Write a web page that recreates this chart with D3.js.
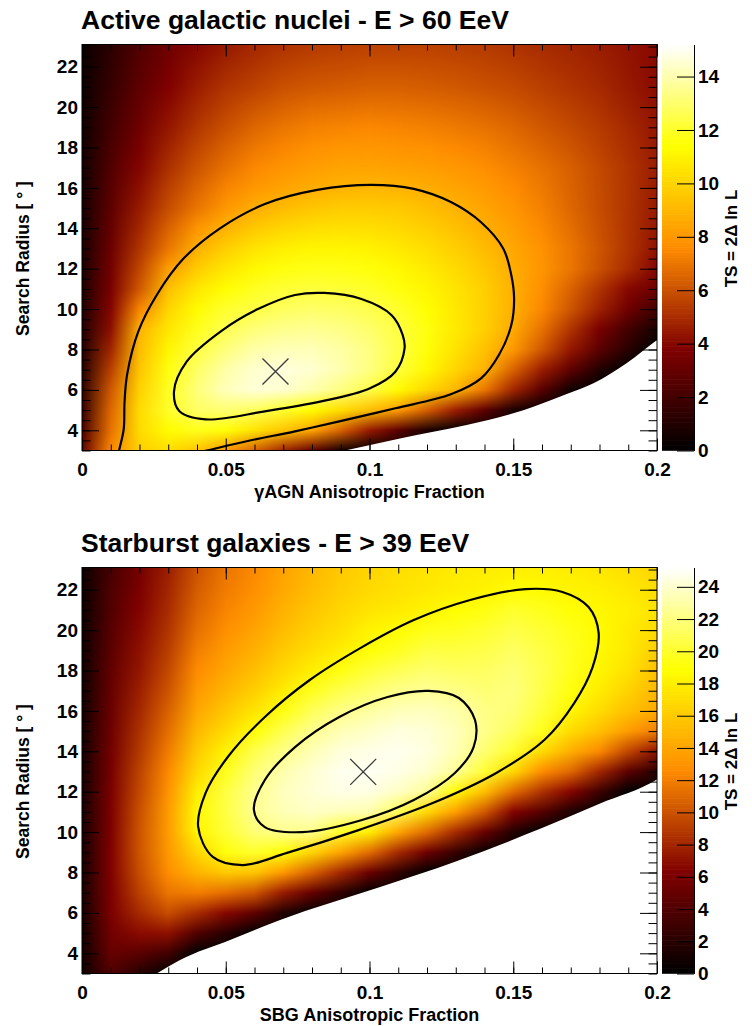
<!DOCTYPE html>
<html>
<head>
<meta charset="utf-8">
<script src="https://cdn.jsdelivr.net/npm/d3@7"></script>
<style>
  body { margin: 0; background: #fff; }
  svg { display: block; }
  text { font-family: 'Liberation Sans', Arial, Helvetica, sans-serif; font-weight: bold; }
</style>
</head>
<body>
<div class="chart-container"></div>
<script>
// likelihood scan grid
const frac_grid = [0, 0.01, 0.02, 0.03, 0.04, 0.05, 0.06, 0.07, 0.08, 0.09, 0.1,
                   0.11, 0.12, 0.13, 0.14, 0.15, 0.16, 0.17, 0.18, 0.19, 0.2];
const radius_grid = [23, 22, 21, 20, 19, 18, 17, 16, 15, 14, 13, 12, 11, 10, 9, 8, 7, 6, 5, 4, 3];

// TS of the gamma-AGN scan, one row per radius (top to bottom), one value per fraction
// (cells below the fit boundary are 0, they are covered by the white region)
const agn_ts_by_radius = [
  [0.3, 1.3, 2.4, 3.3, 4.0, 4.5, 4.9, 5.2, 5.4, 5.5, 5.6, 5.6, 5.6, 5.5, 5.4, 5.2, 5.0, 4.8, 4.6, 4.3, 4.0],
  [0.35, 1.45, 2.6, 3.55, 4.3, 4.85, 5.25, 5.6, 5.8, 5.9, 6.0, 6.0, 5.95, 5.85, 5.7, 5.5, 5.25, 5.0, 4.75, 4.4, 4.05],
  [0.4, 1.6, 2.8, 3.8, 4.6, 5.2, 5.6, 6.0, 6.2, 6.3, 6.4, 6.4, 6.3, 6.2, 6.0, 5.8, 5.5, 5.2, 4.9, 4.5, 4.1],
  [0.45, 1.8, 3.05, 4.1, 4.95, 5.6, 6.1, 6.5, 6.75, 6.85, 6.95, 6.9, 6.8, 6.65, 6.45, 6.2, 5.85, 5.5, 5.15, 4.7, 4.25],
  [0.5, 2.0, 3.3, 4.4, 5.3, 6.0, 6.6, 7.0, 7.3, 7.4, 7.5, 7.4, 7.3, 7.1, 6.9, 6.6, 6.2, 5.8, 5.4, 4.9, 4.4],
  [0.55, 2.2, 3.6, 4.75, 5.7, 6.45, 7.05, 7.45, 7.75, 7.9, 7.95, 7.85, 7.75, 7.55, 7.3, 6.95, 6.55, 6.1, 5.6, 5.05, 4.5],
  [0.6, 2.4, 3.9, 5.1, 6.1, 6.9, 7.5, 7.9, 8.2, 8.4, 8.4, 8.3, 8.2, 8.0, 7.7, 7.3, 6.9, 6.4, 5.8, 5.2, 4.6],
  [0.65, 2.6, 4.2, 5.5, 6.55, 7.4, 8.0, 8.4, 8.7, 8.9, 9.0, 8.9, 8.7, 8.4, 8.05, 7.6, 7.1, 6.5, 5.85, 5.2, 4.55],
  [0.7, 2.8, 4.5, 5.9, 7.0, 8.0, 8.7, 9.2, 9.5, 9.7, 9.7, 9.6, 9.3, 8.9, 8.4, 7.9, 7.3, 6.6, 5.9, 5.2, 4.5],
  [0.75, 3.0, 4.85, 6.45, 7.9, 8.9, 9.6, 10.05, 10.3, 10.4, 10.35, 10.15, 9.8, 9.35, 8.8, 8.2, 7.55, 6.8, 6.0, 5.2, 4.4],
  [0.8, 3.2, 5.2, 7.0, 8.8, 9.8, 10.5, 10.9, 11.1, 11.1, 11.0, 10.7, 10.3, 9.8, 9.2, 8.5, 7.8, 7.0, 6.1, 5.2, 4.3],
  [0.85, 3.4, 5.7, 8.2, 9.7, 10.6, 11.2, 11.6, 11.75, 11.7, 11.55, 11.2, 10.75, 10.2, 9.55, 8.7, 7.9, 7.0, 6.0, 5.0, 3.9],
  [0.9, 3.6, 6.2, 9.3, 10.6, 11.4, 11.9, 12.2, 12.3, 12.2, 12.0, 11.6, 11.1, 10.5, 9.8, 8.8, 7.7, 6.5, 5.2, 4.0, 3.2],
  [0.95, 3.9, 7.4, 10.0, 11.3, 12.1, 12.4, 12.8, 12.95, 12.85, 12.55, 12.05, 11.4, 10.65, 9.85, 8.8, 7.5, 6.1, 4.7, 3.3, 2.0],
  [1.0, 4.2, 8.9, 10.6, 11.8, 12.6, 13.2, 13.5, 13.6, 13.4, 13.0, 12.4, 11.6, 10.7, 9.8, 8.6, 6.9, 5.2, 3.6, 2.0, 0.7],
  [1.05, 4.8, 9.2, 11.1, 12.35, 13.25, 13.9, 14.15, 14.15, 13.85, 13.3, 12.45, 11.5, 10.45, 9.4, 8.0, 6.2, 4.4, 2.7, 1.2, 0],
  [1.1, 5.5, 9.5, 11.6, 12.9, 13.9, 14.5, 14.7, 14.5, 14.0, 13.3, 12.3, 11.2, 10.0, 8.9, 6.5, 4.6, 2.8, 1.0, 0, 0],
  [1.3, 6.2, 9.9, 11.9, 13.2, 14.2, 14.6, 14.5, 14.0, 13.3, 12.5, 11.3, 10.1, 9.0, 7.0, 4.8, 2.6, 0.5, 0, 0, 0],
  [1.6, 6.6, 10.2, 12.0, 12.9, 13.1, 12.8, 12.1, 11.3, 10.3, 9.3, 8.1, 6.4, 4.6, 2.8, 0.8, 0, 0, 0, 0, 0],
  [2.2, 6.9, 10.2, 11.3, 11.8, 11.5, 10.5, 9.5, 8.4, 6.5, 4.5, 2.7, 0.8, 0, 0, 0, 0, 0, 0, 0, 0],
  [3.0, 7.5, 9.8, 10.3, 9.5, 8.0, 6.5, 4.8, 3.0, 0.6, 0, 0, 0, 0, 0, 0, 0, 0, 0, 0, 0]
];

// TS of the starburst scan, one column per fraction, values along the radius from 23 down to 3
const sbg_ts_by_fraction = [
  [0.6, 0.65, 0.7, 0.75, 0.8, 0.85, 0.9, 0.95, 1.0, 1.05, 1.1, 1.15, 1.2, 1.2, 1.2, 1.2, 1.2, 1.1, 1.0, 0.9, 0.8],
  [3.5, 3.8, 4.0, 4.3, 4.5, 4.8, 5.0, 5.2, 5.4, 5.6, 5.8, 6.0, 6.1, 6.2, 6.3, 6.3, 6.2, 6.0, 5.6, 5.0, 4.0],
  [5.8, 6.1, 6.4, 6.7, 7.0, 7.3, 7.7, 8.1, 8.5, 8.9, 9.3, 9.6, 9.9, 10.1, 10.1, 9.8, 9.2, 8.2, 6.8, 4.5, 2.0],
  [7.7, 8.0, 8.3, 8.7, 9.1, 9.6, 10.1, 10.7, 11.3, 11.9, 12.5, 13.0, 13.4, 13.5, 13.3, 12.7, 11.6, 9.8, 7.0, 3.2, 0],
  [10.1, 10.5, 10.9, 11.4, 12.0, 12.6, 13.3, 14.1, 15.0, 16.0, 16.9, 18.0, 18.6, 18.4, 16.7, 14.8, 12.0, 8.3, 4.0, 0, 0],
  [11.6, 11.9, 12.3, 12.8, 13.4, 14.1, 14.9, 15.9, 17.0, 18.3, 19.6, 20.5, 20.6, 20.2, 19.2, 16.0, 11.3, 6.6, 2.0, 0, 0],
  [12.5, 12.8, 13.3, 13.9, 14.6, 15.4, 16.3, 17.5, 19.0, 20.8, 21.8, 22.4, 22.5, 21.8, 20.0, 15.8, 10.2, 4.7, 0, 0, 0],
  [13.9, 14.2, 14.7, 15.3, 16.0, 16.8, 17.9, 19.3, 20.9, 22.2, 23.2, 23.6, 23.4, 22.4, 19.0, 13.3, 7.5, 1.7, 0, 0, 0],
  [15.0, 15.3, 15.8, 16.4, 17.1, 18.1, 19.6, 21.1, 22.4, 23.4, 24.1, 24.2, 23.8, 22.3, 16.6, 10.7, 4.9, 0, 0, 0, 0],
  [16.0, 16.2, 16.7, 17.2, 18.0, 19.3, 20.8, 22.2, 23.4, 24.3, 24.8, 24.6, 23.5, 19.8, 13.9, 8.1, 2.3, 0, 0, 0, 0],
  [16.6, 16.9, 17.4, 18.3, 19.0, 20.3, 21.6, 22.9, 23.9, 24.6, 24.9, 24.5, 23.2, 18.0, 11.2, 5.2, 0, 0, 0, 0, 0],
  [17.1, 17.3, 17.8, 18.8, 19.7, 21.0, 22.3, 23.5, 24.4, 24.8, 24.6, 23.8, 21.0, 14.0, 8.2, 2.4, 0, 0, 0, 0, 0],
  [17.5, 17.7, 18.3, 19.5, 20.6, 21.6, 22.6, 23.6, 24.2, 24.4, 24.0, 22.6, 16.9, 11.1, 5.4, 0, 0, 0, 0, 0, 0],
  [17.8, 18.0, 18.9, 19.7, 20.5, 21.3, 22.2, 23.1, 23.5, 23.4, 22.6, 18.7, 13.6, 8.2, 2.6, 0, 0, 0, 0, 0, 0],
  [17.9, 18.3, 19.3, 20.1, 20.7, 21.3, 21.8, 22.2, 22.3, 21.7, 20.2, 15.4, 10.3, 5.1, 0.3, 0, 0, 0, 0, 0, 0],
  [18.1, 18.8, 20.0, 20.7, 21.3, 21.8, 22.0, 21.8, 21.2, 20.0, 16.8, 11.2, 6.4, 1.7, 0, 0, 0, 0, 0, 0, 0],
  [18.1, 18.7, 19.6, 20.2, 20.6, 20.8, 20.7, 20.3, 19.6, 17.0, 12.7, 8.6, 4.2, 0, 0, 0, 0, 0, 0, 0, 0],
  [17.9, 18.3, 19.0, 19.5, 19.7, 19.6, 19.2, 18.5, 17.0, 14.5, 11.0, 6.5, 1.5, 0, 0, 0, 0, 0, 0, 0, 0],
  [17.6, 18.1, 18.5, 18.7, 18.6, 18.4, 17.9, 17.0, 15.5, 12.5, 8.0, 3.0, 0, 0, 0, 0, 0, 0, 0, 0, 0],
  [17.2, 17.7, 18.0, 17.8, 17.7, 17.3, 16.5, 15.5, 13.5, 9.5, 4.5, 0, 0, 0, 0, 0, 0, 0, 0, 0, 0],
  [16.7, 17.1, 17.4, 17.0, 16.3, 15.5, 15.0, 14.3, 12.0, 7.0, 2.0, 0, 0, 0, 0, 0, 0, 0, 0, 0, 0]
];

// edge of the allowed region (white below it), [fraction, radius]
const agn_boundary = [[0.0915, 3.0], [0.1106, 3.6], [0.1222, 3.93], [0.1338, 4.26], [0.15, 4.84],
                      [0.157, 5.17], [0.1686, 5.8], [0.1779, 6.33], [0.1894, 7.32], [0.2, 8.47]];
const sbg_boundary = [[0.026, 3.0], [0.0341, 3.67], [0.0515, 4.66], [0.0689, 5.65], [0.1037, 7.28],
                      [0.13, 8.55], [0.16, 10.2], [0.18, 11.4], [0.2, 12.6]];

// contour lines
const agn_outer = [[0.0127, 2.8], [0.0129, 3.0], [0.0145, 4.05], [0.0148, 5.4], [0.0157, 6.77], [0.0196, 8.9],
                   [0.026, 10.7], [0.0353, 12.5], [0.048, 14.0], [0.0636, 15.2], [0.0818, 15.9], [0.1007, 16.15],
                   [0.1154, 15.95], [0.1283, 15.3], [0.1388, 14.3], [0.1465, 13.0], [0.1493, 11.7], [0.1503, 10.5],
                   [0.1493, 9.2], [0.1451, 7.75], [0.1388, 6.57], [0.1283, 5.78], [0.109, 5.09], [0.0895, 4.44],
                   [0.0741, 3.95], [0.0573, 3.46], [0.0437, 3.01], [0.038, 2.82]];
const agn_inner = [[0.032, 5.93], [0.0364, 7.4], [0.0483, 8.9], [0.0612, 10.0], [0.0741, 10.7], [0.0843, 10.8],
                   [0.0972, 10.5], [0.1077, 9.7], [0.1115, 8.74], [0.1122, 8.05], [0.109, 6.9], [0.1, 6.07],
                   [0.0832, 5.43], [0.0636, 4.94], [0.043, 4.54], [0.0339, 4.94]];
const sbg_outer = [[0.0404, 10.27], [0.043, 11.94], [0.0507, 13.72], [0.0636, 15.7], [0.0792, 17.53], [0.0974, 19.16],
                   [0.1154, 20.5], [0.135, 21.49], [0.1542, 22.03], [0.1671, 21.89], [0.1762, 21.14], [0.1797, 19.86],
                   [0.1776, 18.17], [0.1712, 16.39], [0.1608, 14.56], [0.1441, 12.93], [0.122, 11.44], [0.0962, 10.1],
                   [0.0713, 8.97], [0.056, 8.37], [0.0455, 8.77]];
const sbg_inner = [[0.0598, 11.09], [0.0636, 12.58], [0.0741, 14.21], [0.0895, 15.7], [0.1063, 16.69], [0.1206, 16.99],
                   [0.1311, 16.64], [0.1367, 15.55], [0.1362, 14.21], [0.1297, 12.93], [0.1154, 11.59], [0.0974, 10.6],
                   [0.0766, 10.0], [0.0636, 10.25]];

// best fit points
const agn_best = [0.0673, 6.91];
const sbg_best = [0.0978, 12.98];

// axes
const frac_ticks = [0, 0.05, 0.1, 0.15, 0.2];
const radius_ticks = [4, 6, 8, 10, 12, 14, 16, 18, 20, 22];
const agn_ts_ticks = [0, 2, 4, 6, 8, 10, 12, 14];
const sbg_ts_ticks = [0, 2, 4, 6, 8, 10, 12, 14, 16, 18, 20, 22, 24];
const agn_ts_max = 15.2;
const sbg_ts_max = 25.2;

const font = "'Liberation Sans', Arial, Helvetica, sans-serif";

function build_color_scale(ts_max) {
   // black -> dark red -> orange -> yellow -> white
   return d3.scaleLinear()
      .domain([0, 0.25, 0.5, 0.75, 1].map(t => t * ts_max))
      .range(['#000000', '#800000', '#ff8c00', '#ffff00', '#ffffff'])
      .clamp(true);
}

function draw_heatmap(g, grid, x, y, color, clip_id) {
   // grid: rows along radius_grid, columns along frac_grid
   const nx = frac_grid.length, ny = radius_grid.length;
   const small = document.createElement('canvas');
   small.width = nx;
   small.height = ny;
   const sctx = small.getContext('2d');
   const img = sctx.createImageData(nx, ny);
   grid.forEach((row, j) => row.forEach((v, i) => {
      const c = d3.rgb(color(v));
      const k = (j * nx + i) * 4;
      img.data[k] = c.r;
      img.data[k + 1] = c.g;
      img.data[k + 2] = c.b;
      img.data[k + 3] = 255;
   }));
   sctx.putImageData(img, 0, 0);

   // each grid value sits in the middle of its cell
   const dx = frac_grid[1] - frac_grid[0];
   const dy = radius_grid[0] - radius_grid[1];
   const x0 = x(frac_grid[0] - dx / 2), x1 = x(frac_grid[nx - 1] + dx / 2);
   const y0 = y(radius_grid[0] + dy / 2), y1 = y(radius_grid[ny - 1] - dy / 2);

   const big = document.createElement('canvas');
   big.width = Math.round(x1 - x0);
   big.height = Math.round(y1 - y0);
   const bctx = big.getContext('2d');
   bctx.imageSmoothingEnabled = true;
   bctx.imageSmoothingQuality = 'medium';
   bctx.drawImage(small, 0, 0, nx, ny, 0, 0, big.width, big.height);

   g.append('image')
      .attr('href', big.toDataURL())
      .attr('x', x0).attr('y', y0)
      .attr('width', x1 - x0).attr('height', y1 - y0)
      .attr('preserveAspectRatio', 'none')
      .attr('clip-path', `url(#${clip_id})`);
}

function style_axis(sel, size) {
   sel.select('.domain').remove();
   sel.selectAll('line').attr('stroke', '#000').attr('stroke-width', 1);
   sel.selectAll('text')
      .attr('fill', '#000')
      .style('font-family', font)
      .style('font-weight', 'bold')
      .style('font-size', size + 'px');
}

function draw_panel(svg, p) {
   const left = 82, right = 657;
   const top = p.top, bottom = p.top + 406;

   const x = d3.scaleLinear().domain([0, 0.2]).range([left, right]);
   const y = d3.scaleLinear().domain([3, 23.1]).range([bottom, top]);
   const color = build_color_scale(p.ts_max);

   const g = svg.append('g');
   const clip_id = 'clip-' + p.id;
   g.append('clipPath').attr('id', clip_id)
      .append('rect')
      .attr('x', left).attr('y', top)
      .attr('width', right - left).attr('height', bottom - top);

   draw_heatmap(g, p.grid, x, y, color, clip_id);

   // white region where the fit is not defined
   const mask = d3.area()
      .x(d => x(d[0]))
      .y0(bottom + 2)
      .y1(d => y(d[1]))
      .curve(d3.curveMonotoneX);
   g.append('path')
      .datum(p.boundary.concat([[0.21, p.boundary[p.boundary.length - 1][1] + 1]]))
      .attr('d', mask)
      .attr('fill', '#fff')
      .attr('clip-path', `url(#${clip_id})`);

   // contours
   const contours = g.append('g').attr('clip-path', `url(#${clip_id})`);
   p.contours.forEach(c => {
      const line = d3.line()
         .x(d => x(d[0]))
         .y(d => y(d[1]))
         .curve(c.closed ? d3.curveCatmullRomClosed : d3.curveCatmullRom);
      contours.append('path')
         .attr('d', line(c.points))
         .attr('fill', 'none')
         .attr('stroke', '#000')
         .attr('stroke-width', 2.2);
   });

   // best fit cross
   const bx = x(p.best[0]), by = y(p.best[1]), r = 13;
   g.append('path')
      .attr('d', `M${bx - r},${by - r}L${bx + r},${by + r}M${bx - r},${by + r}L${bx + r},${by - r}`)
      .attr('stroke', '#3a3a3a')
      .attr('stroke-width', 1.3);

   // ticks on all four sides, pointing inwards
   const x_minor = d3.range(0, 0.2001, 0.01);
   const y_minor = d3.range(3, 23.01, 0.5);
   g.append('g').attr('transform', `translate(0,${bottom})`)
      .call(d3.axisBottom(x).tickValues(x_minor).tickSize(-6).tickFormat(''))
      .call(s => style_axis(s, 19));
   g.append('g').attr('transform', `translate(0,${bottom})`)
      .call(d3.axisBottom(x).tickValues(frac_ticks).tickSize(-12).tickPadding(12.5).tickFormat(d3.format('~g')))
      .call(s => style_axis(s, 19));
   g.append('g').attr('transform', `translate(0,${top})`)
      .call(d3.axisTop(x).tickValues(x_minor).tickSize(-6).tickFormat(''))
      .call(s => style_axis(s, 19));
   g.append('g').attr('transform', `translate(0,${top})`)
      .call(d3.axisTop(x).tickValues(frac_ticks).tickSize(-12).tickFormat(''))
      .call(s => style_axis(s, 19));
   g.append('g').attr('transform', `translate(${left},0)`)
      .call(d3.axisLeft(y).tickValues(y_minor).tickSize(-8.5).tickFormat(''))
      .call(s => style_axis(s, 19));
   g.append('g').attr('transform', `translate(${left},0)`)
      .call(d3.axisLeft(y).tickValues(radius_ticks).tickSize(-17).tickPadding(4))
      .call(s => style_axis(s, 19));
   g.append('g').attr('transform', `translate(${right},0)`)
      .call(d3.axisRight(y).tickValues(y_minor).tickSize(-8.5).tickFormat(''))
      .call(s => style_axis(s, 19));
   g.append('g').attr('transform', `translate(${right},0)`)
      .call(d3.axisRight(y).tickValues(radius_ticks).tickSize(-17).tickFormat(''))
      .call(s => style_axis(s, 19));

   g.append('rect')
      .attr('x', left).attr('y', top)
      .attr('width', right - left).attr('height', bottom - top)
      .attr('fill', 'none')
      .attr('stroke', '#000')
      .attr('stroke-width', 1);

   // titles
   g.append('text')
      .attr('x', 81).attr('y', top - 16)
      .style('font-size', '26.5px')
      .text(p.title);
   g.append('text')
      .attr('x', (left + right) / 2).attr('y', bottom + 47)
      .attr('text-anchor', 'middle')
      .style('font-size', '18px')
      .text(p.x_label);
   g.append('text')
      .attr('transform', `translate(29,${(top + bottom) / 2 + 11}) rotate(-90)`)
      .attr('text-anchor', 'middle')
      .style('font-size', '17.5px')
      .text('Search Radius [ ° ]');

   // colour bar
   const cb_left = 662, cb_right = 694;
   const c_scale = d3.scaleLinear().domain([0, p.ts_max]).range([bottom, top]);
   const n_slices = 160;
   const step = p.ts_max / n_slices;
   g.append('g').selectAll('rect')
      .data(d3.range(n_slices).map(i => i * step))
      .enter()
      .append('rect')
      .attr('x', cb_left)
      .attr('y', d => c_scale(d + step) - 0.3)
      .attr('width', cb_right - cb_left)
      .attr('height', d => c_scale(d) - c_scale(d + step) + 0.6)
      .attr('fill', d => color(d + step / 2));
   g.append('g').attr('transform', `translate(${cb_right},0)`)
      .call(d3.axisRight(c_scale).tickValues(p.ts_ticks).tickSize(-17).tickSizeOuter(0).tickPadding(4))
      .call(s => {
         s.selectAll('line').attr('stroke', '#000');
         s.select('.domain').attr('stroke', '#000');
         s.selectAll('text').attr('fill', '#000')
            .style('font-family', font).style('font-weight', 'bold').style('font-size', '19px');
      });
   g.append('text')
      .attr('transform', `translate(737,${(top + bottom) / 2 - 9}) rotate(-90)`)
      .attr('text-anchor', 'middle')
      .style('font-size', '17px')
      .text('TS = 2Δ ln L');
}

function main() {
   const svg = d3.select('.chart-container')
      .append('svg')
      .attr('width', 752)
      .attr('height', 1026);
   svg.append('rect').attr('width', 752).attr('height', 1026).attr('fill', '#fff');

   draw_panel(svg, {
      id: 'agn', top: 44.5,
      title: 'Active galactic nuclei - E > 60 EeV',
      x_label: 'γAGN Anisotropic Fraction',
      grid: agn_ts_by_radius, ts_max: agn_ts_max, ts_ticks: agn_ts_ticks,
      boundary: agn_boundary,
      contours: [{points: agn_outer, closed: false}, {points: agn_inner, closed: true}],
      best: agn_best
   });
   draw_panel(svg, {
      id: 'sbg', top: 567.5,
      title: 'Starburst galaxies - E > 39 EeV',
      x_label: 'SBG Anisotropic Fraction',
      grid: d3.transpose(sbg_ts_by_fraction), ts_max: sbg_ts_max, ts_ticks: sbg_ts_ticks,
      boundary: sbg_boundary,
      contours: [{points: sbg_outer, closed: true}, {points: sbg_inner, closed: true}],
      best: sbg_best
   });
}

main();
</script>
</body>
</html>
